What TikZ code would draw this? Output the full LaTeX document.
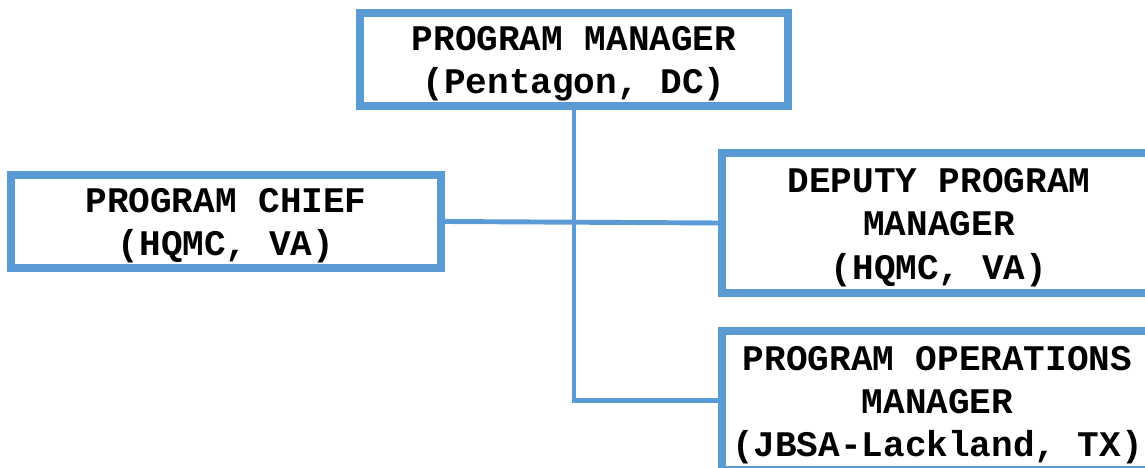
\documentclass[tikz,border=0pt]{standalone}
\usepackage{fontspec}
\setmonofont{Liberation Mono}
\usepackage{tikz}
\usetikzlibrary{positioning}
\definecolor{orgblue}{HTML}{5B9BD5}
\newcommand{\toprow}{\rule{0pt}{19pt}}

\begin{document}
\begin{tikzpicture}[
		office/.style={draw=orgblue,line width=4.3pt,fill=white,align=center,inner sep=0pt,
			font=\ttfamily\bfseries\fontsize{20.5}{24.5}\selectfont},
		link/.style={draw=orgblue,line width=2.8pt}]
		\useasboundingbox (0,0) rectangle (22.9,9.36);
		\node[office,minimum width=8.56cm,minimum height=1.86cm] (pm) at (11.48,8.17) {\toprow PROGRAM MANAGER\\(Pentagon, DC)};
		\node[office,minimum width=8.6cm,minimum height=1.86cm] (chief) at (4.52,4.93) {\toprow PROGRAM CHIEF\\(HQMC, VA)};
		\node[office,minimum width=8.68cm,minimum height=2.8cm] (deputy) at (18.78,4.9) {\toprow DEPUTY PROGRAM\\MANAGER\\(HQMC, VA)};
		\node[office,minimum width=8.62cm,minimum height=2.78cm] (ops) at (18.75,1.35) {\toprow PROGRAM OPERATIONS\\MANAGER\\(JBSA-Lackland, TX)};
		\draw[link] (chief.east) -- (deputy.west);
		\draw[link] (pm.south) |- (ops.west);
		\end{tikzpicture}
\end{document}
